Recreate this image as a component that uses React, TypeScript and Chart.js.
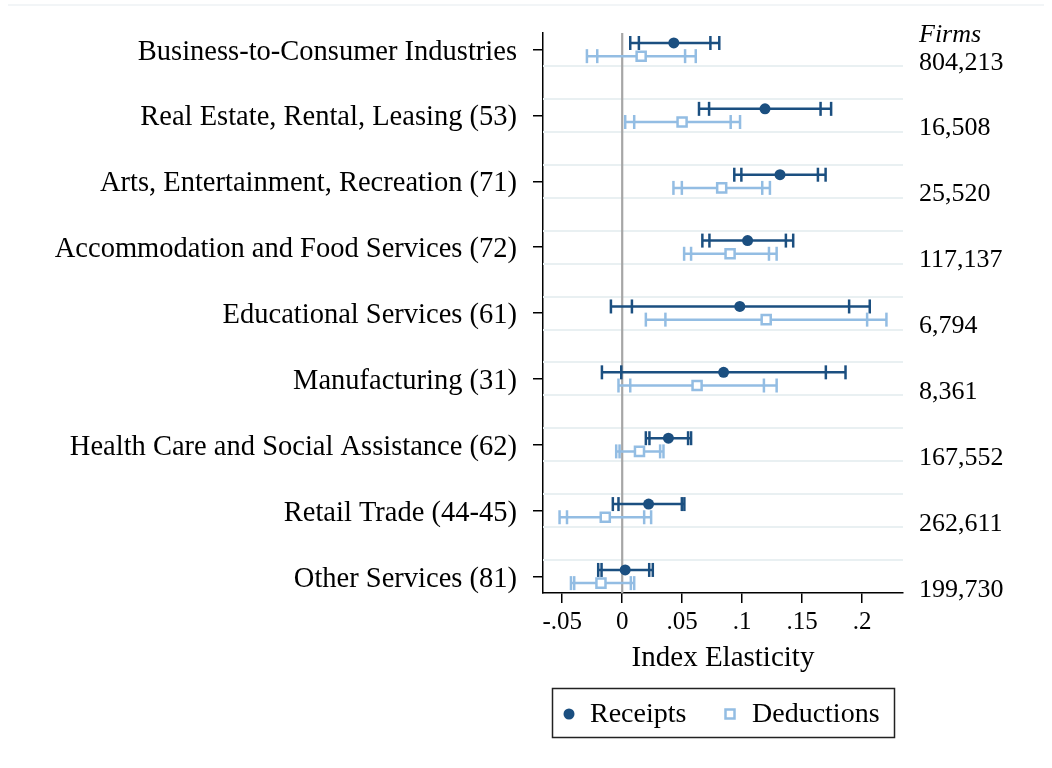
import React, { useEffect, useRef } from "react";
import { Chart, registerables } from "chart.js";

Chart.register(...registerables);

// Industry rows, top to bottom
const categories = [
  "Business-to-Consumer Industries",
  "Real Estate, Rental, Leasing (53)",
  "Arts, Entertainment, Recreation (71)",
  "Accommodation and Food Services (72)",
  "Educational Services (61)",
  "Manufacturing (31)",
  "Health Care and Social Assistance (62)",
  "Retail Trade (44-45)",
  "Other Services (81)",
];

// Number of firms per row
const firms = ["804,213", "16,508", "25,520", "117,137", "6,794", "8,361", "167,552", "262,611", "199,730"];

// Receipts: point estimates with 90% and 95% intervals
const receiptsCoef = [0.043, 0.119, 0.1315, 0.1045, 0.098, 0.0845, 0.0385, 0.022, 0.0025];
const receiptsLo95 = [0.0067, 0.064, 0.0934, 0.0668, -0.0094, -0.0169, 0.0197, -0.0078, -0.02];
const receiptsLo90 = [0.0139, 0.0724, 0.0993, 0.0727, 0.0081, -0.0008, 0.0227, -0.0031, -0.0172];
const receiptsHi90 = [0.0735, 0.1653, 0.1631, 0.1364, 0.1891, 0.1697, 0.0549, 0.0497, 0.0225];
const receiptsHi95 = [0.0809, 0.1741, 0.1695, 0.1425, 0.2063, 0.1861, 0.0574, 0.0518, 0.0255];

// Deductions: point estimates with 90% and 95% intervals
const deductionsCoef = [0.0158, 0.0499, 0.0829, 0.0899, 0.12, 0.0624, 0.0144, -0.0141, -0.0177];
const deductionsLo95 = [-0.0294, 0.0025, 0.0427, 0.0516, 0.0197, -0.0031, -0.005, -0.0522, -0.0427];
const deductionsLo90 = [-0.0208, 0.01, 0.0497, 0.0574, 0.036, 0.0067, -0.0022, -0.046, -0.04];
const deductionsHi90 = [0.0524, 0.0904, 0.1167, 0.1223, 0.2041, 0.1181, 0.0316, 0.0183, 0.0072];
const deductionsHi95 = [0.0613, 0.0982, 0.1231, 0.1287, 0.2202, 0.1287, 0.0344, 0.0241, 0.01];

// X axis ticks and their labels
const xTickValues = [-0.05, 0, 0.05, 0.1, 0.15, 0.2];
const xTickLabels = ["-.05", "0", ".05", ".1", ".15", ".2"];

const FONT = "'Liberation Serif', 'Times New Roman', serif";
const DARK = "#1b4f80";
const LIGHT = "#93bde3";
const ROW_SHIFT = 0.1;

const intervalsPlugin = {
  id: "intervals",
  beforeDatasetsDraw(chart: any) {
    const { ctx, chartArea, scales } = chart;
    const xs = scales.x;
    const ys = scales.y;
    ctx.save();
    // light horizontal guides around every row
    ctx.strokeStyle = "#e9f0f2";
    ctx.lineWidth = 2;
    for (let i = 0; i < categories.length; i++) {
      for (const d of [-0.25, 0.25]) {
        const v = i + d;
        if (v <= ys.min + 1e-6 || v >= ys.max - 1e-6) continue;
        const py = Math.round(ys.getPixelForValue(v));
        ctx.beginPath();
        ctx.moveTo(chartArea.left, py);
        ctx.lineTo(chartArea.right, py);
        ctx.stroke();
      }
    }
    // zero reference line
    const zx = xs.getPixelForValue(0);
    ctx.strokeStyle = "#a6a6a6";
    ctx.lineWidth = 2.2;
    ctx.beginPath();
    ctx.moveTo(zx, chartArea.top);
    ctx.lineTo(zx, chartArea.bottom);
    ctx.stroke();

    const drawBars = (lo95: number[], lo90: number[], hi90: number[], hi95: number[], shift: number, color: string) => {
      ctx.strokeStyle = color;
      ctx.lineWidth = 2.5;
      for (let i = 0; i < categories.length; i++) {
        const py = ys.getPixelForValue(i + shift);
        ctx.beginPath();
        ctx.moveTo(xs.getPixelForValue(lo95[i]), py);
        ctx.lineTo(xs.getPixelForValue(hi95[i]), py);
        ctx.stroke();
        for (const v of [lo95[i], lo90[i], hi90[i], hi95[i]]) {
          const px = xs.getPixelForValue(v);
          ctx.beginPath();
          ctx.moveTo(px, py - 7);
          ctx.lineTo(px, py + 7);
          ctx.stroke();
        }
      }
    };
    drawBars(receiptsLo95, receiptsLo90, receiptsHi90, receiptsHi95, -ROW_SHIFT, DARK);
    drawBars(deductionsLo95, deductionsLo90, deductionsHi90, deductionsHi95, ROW_SHIFT, LIGHT);
    ctx.restore();
  },
  afterDraw(chart: any) {
    const { ctx, chartArea, scales } = chart;
    const ys = scales.y;
    ctx.save();
    // faint rule along the top of the figure
    ctx.strokeStyle = "#eef2f4";
    ctx.lineWidth = 1.5;
    ctx.beginPath();
    ctx.moveTo(8, 5);
    ctx.lineTo(1044, 5);
    ctx.stroke();

    // firm counts on the right
    ctx.fillStyle = "#000";
    ctx.textAlign = "left";
    ctx.textBaseline = "middle";
    ctx.font = `italic 26px ${FONT}`;
    ctx.fillText("Firms", 919, 35);
    ctx.font = `26px ${FONT}`;
    for (let i = 0; i < firms.length; i++) {
      ctx.fillText(firms[i], 919, ys.getPixelForValue(i + 0.2));
    }

    // axis title
    ctx.textAlign = "center";
    ctx.font = `29px ${FONT}`;
    ctx.fillText("Index Elasticity", (chartArea.left + chartArea.right) / 2, 658);

    // legend
    ctx.strokeStyle = "#222";
    ctx.lineWidth = 1.5;
    ctx.strokeRect(552.5, 688.5, 342, 49);
    ctx.fillStyle = DARK;
    ctx.beginPath();
    ctx.arc(569, 714, 5.5, 0, Math.PI * 2);
    ctx.fill();
    ctx.fillStyle = "#fff";
    ctx.strokeStyle = LIGHT;
    ctx.lineWidth = 2.5;
    ctx.fillRect(725.5, 709.5, 9, 9);
    ctx.strokeRect(725.5, 709.5, 9, 9);
    ctx.fillStyle = "#000";
    ctx.textAlign = "left";
    ctx.font = `28px ${FONT}`;
    ctx.fillText("Receipts", 590, 715);
    ctx.fillText("Deductions", 752, 715);
    ctx.restore();
  },
};

export default function App() {
  const ref = useRef<HTMLCanvasElement | null>(null);

  useEffect(() => {
    if (!ref.current) return;
    const chart = new Chart(ref.current, {
      type: "scatter",
      data: {
        datasets: [
          {
            label: "Receipts",
            data: receiptsCoef.map((v, i) => ({ x: v, y: i - ROW_SHIFT })),
            pointStyle: "circle",
            pointRadius: 5.5,
            pointBackgroundColor: DARK,
            pointBorderColor: DARK,
            pointBorderWidth: 0,
          },
          {
            label: "Deductions",
            data: deductionsCoef.map((v, i) => ({ x: v, y: i + ROW_SHIFT })),
            pointStyle: "rect",
            pointRadius: 6.4,
            pointBackgroundColor: "#ffffff",
            pointBorderColor: LIGHT,
            pointBorderWidth: 2.5,
          },
        ],
      },
      options: {
        responsive: false,
        animation: false,
        events: [],
        layout: { padding: { top: 32.5, right: 149, bottom: 0, left: 0 } },
        plugins: {
          legend: { display: false },
          tooltip: { enabled: false },
        },
        scales: {
          x: {
            type: "linear",
            min: -0.066,
            max: 0.234,
            afterBuildTicks: (scale: any) => {
              scale.ticks = xTickValues.map((v) => ({ value: v }));
            },
            afterFit: (scale: any) => {
              scale.height = 175;
            },
            grid: { drawOnChartArea: false, drawTicks: true, tickLength: 10, color: "#000", lineWidth: 1.5 },
            border: { display: true, color: "#000", width: 1.5 },
            ticks: {
              color: "#000",
              font: { family: FONT, size: 25 },
              padding: 4,
              maxRotation: 0,
              autoSkip: false,
              callback: (_v: any, idx: number) => xTickLabels[idx],
            },
          },
          y: {
            type: "linear",
            min: -0.25,
            max: 8.25,
            reverse: true,
            afterBuildTicks: (scale: any) => {
              scale.ticks = categories.map((_, i) => ({ value: i }));
            },
            afterFit: (scale: any) => {
              scale.width = 543;
            },
            grid: { drawOnChartArea: false, drawTicks: true, tickLength: 10, color: "#000", lineWidth: 1.5 },
            border: { display: true, color: "#000", width: 1.5 },
            ticks: {
              color: "#000",
              font: { family: FONT, size: 28.5 },
              padding: 16,
              labelOffset: 2.5,
              autoSkip: false,
              callback: (_v: any, idx: number) => categories[idx],
            },
          },
        },
      },
      plugins: [intervalsPlugin],
    });
    return () => chart.destroy();
  }, []);

  return (
    <div style={{ position: "fixed", left: 0, top: 0, width: 1052, height: 768, background: "#fff" }}>
      <canvas ref={ref} width={1052} height={768} style={{ display: "block" }} />
    </div>
  );
}
